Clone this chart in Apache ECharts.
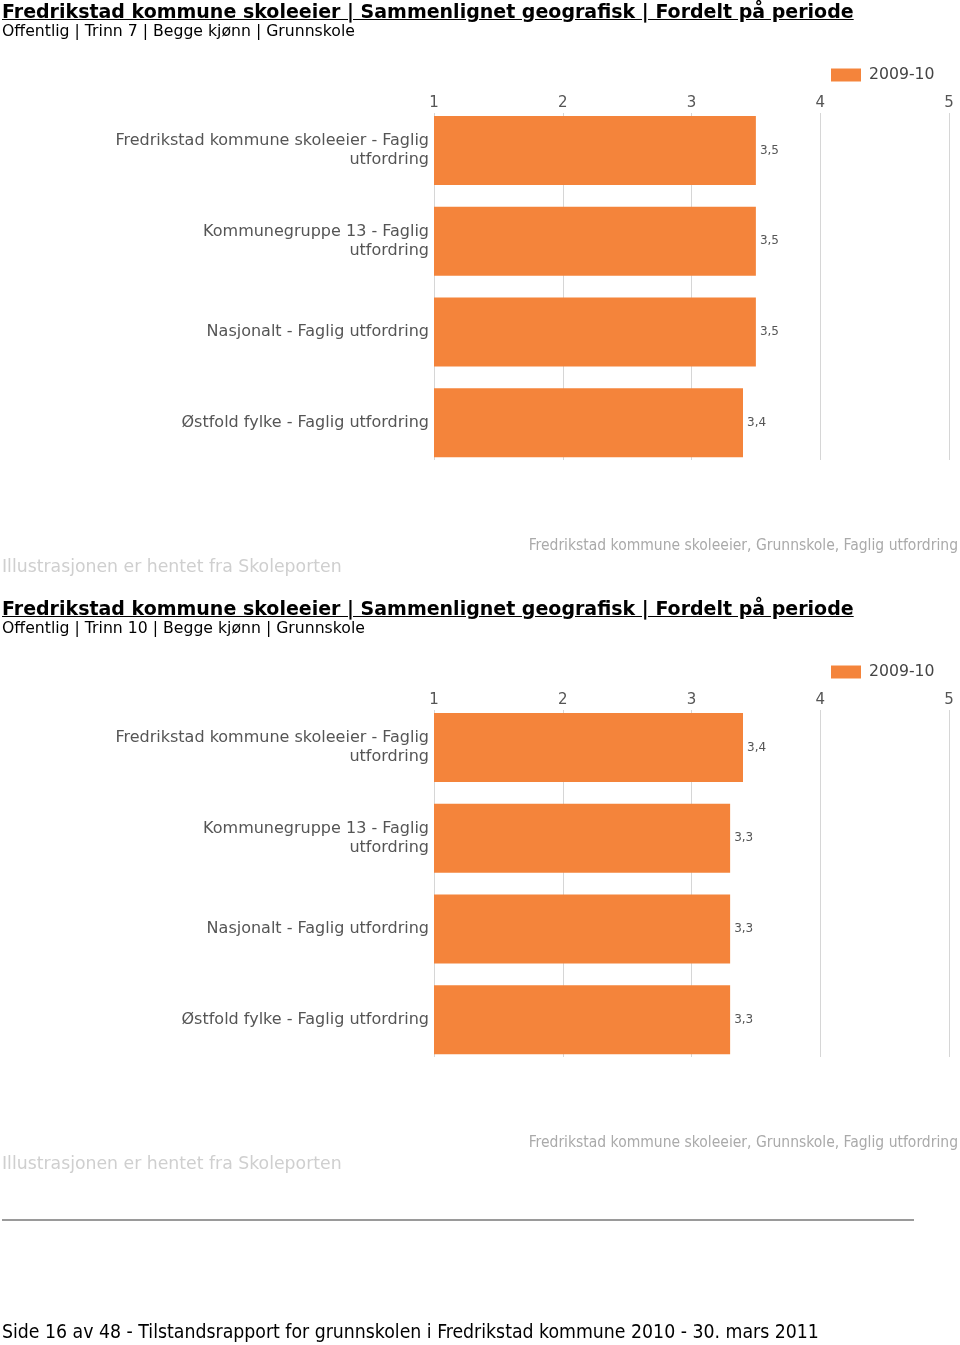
<!DOCTYPE html>
<html>
<head>
<meta charset="utf-8">
<script src="https://cdn.jsdelivr.net/npm/echarts@6/dist/echarts.min.js"></script>
<style>
  html, body { margin: 0; padding: 0; background: #fff; }
  #page { position: relative; width: 960px; height: 1345px; overflow: hidden; }
  #chart { position: absolute; left: 0; top: 0; width: 960px; height: 1345px; }
  .t { position: absolute; white-space: nowrap; pointer-events: none; }
  .title { font-family: "DejaVu Sans", Verdana, sans-serif; font-weight: bold; font-size: 19px; text-decoration: underline; color: #000; left: 2px; }
  .sub { font-family: "DejaVu Sans", Verdana, sans-serif; font-size: 15.7px; color: #000; left: 2px; }
  .src { font-family: "DejaVu Sans", Verdana, sans-serif; font-size: 17.3px; color: #cfcfcf; left: 2px; }
  .foot { font-family: "DejaVu Sans Condensed", "DejaVu Sans", sans-serif; font-size: 19.3px; color: #000; left: 2px; }
  .hr { position: absolute; left: 2px; width: 912px; height: 2px; background: #9a9a9a; }
</style>
</head>
<body>
<div id="page">
  <div id="chart"></div>
  <div class="t title" style="top:0px;">Fredrikstad kommune skoleeier | Sammenlignet geografisk | Fordelt på periode</div>
  <div class="t sub" style="top:21px;">Offentlig | Trinn 7 | Begge kjønn | Grunnskole</div>
  <div class="t src" style="top:556px;">Illustrasjonen er hentet fra Skoleporten</div>
  <div class="t title" style="top:597px;">Fredrikstad kommune skoleeier | Sammenlignet geografisk | Fordelt på periode</div>
  <div class="t sub" style="top:618px;">Offentlig | Trinn 10 | Begge kjønn | Grunnskole</div>
  <div class="t src" style="top:1153px;">Illustrasjonen er hentet fra Skoleporten</div>
  <div class="hr" style="top:1219px;"></div>
  <div class="t foot" style="top:1320px;">Side 16 av 48 - Tilstandsrapport for grunnskolen i Fredrikstad kommune 2010 - 30. mars 2011</div>
</div>
<script>
// ---- data ----
const categories = [
  'Fredrikstad kommune skoleeier - Faglig utfordring',
  'Kommunegruppe 13 - Faglig utfordring',
  'Nasjonalt - Faglig utfordring',
  'Østfold fylke - Faglig utfordring'
];
const periodName = '2009-10';
const trinn7Values = [3.5, 3.5, 3.5, 3.4];
const trinn10Values = [3.4, 3.3, 3.3, 3.3];
const axisMin = 1;
const axisMax = 5;
const axisInterval = 1;
const chartSubtitle = 'Fredrikstad kommune skoleeier, Grunnskole, Faglig utfordring';

// ---- chart ----
const FONT = '"DejaVu Sans", Verdana, sans-serif';
const BAR = '#F4843B';
const chart = echarts.init(document.getElementById('chart'), null, { renderer: 'canvas' });

function wrapLabel(v) {
  return v.length > 34 ? v.replace(' utfordring', '\nutfordring') : v;
}

function block(offset, values, gi) {
  const gMain = { left: 434, width: 515, top: 105 + offset, height: 363 };
  const gLines = { left: 434, width: 515, top: 113 + offset, height: 347 };
  const xMain = {
    gridIndex: gi, type: 'value', min: axisMin, max: axisMax, interval: axisInterval,
    position: 'top', show: false
  };
  const xLines = {
    gridIndex: gi + 1, type: 'value', min: axisMin, max: axisMax, interval: axisInterval,
    position: 'top',
    axisLine: { show: false }, axisTick: { show: false },
    axisLabel: { color: '#555', fontSize: 15, fontFamily: FONT, margin: 2 },
    splitLine: { show: true, lineStyle: { color: '#d6d6d6', width: 1 } }
  };
  const yMain = {
    gridIndex: gi, type: 'category', data: categories, inverse: true,
    axisLine: { show: false }, axisTick: { show: false }, splitLine: { show: false },
    axisLabel: {
      color: '#555', fontSize: 16, fontFamily: FONT, margin: 5, lineHeight: 19,
      align: 'right', formatter: wrapLabel
    }
  };
  const yLines = { gridIndex: gi + 1, type: 'category', data: categories, inverse: true, show: false };
  const series = {
    type: 'bar', name: periodName, xAxisIndex: gi, yAxisIndex: gi, data: values,
    barWidth: 69, clip: true,
    itemStyle: { color: BAR },
    label: {
      show: true, position: 'right', distance: 4, color: '#555', fontSize: 12, fontFamily: FONT,
      formatter: p => String(p.value).replace('.', ',')
    }
  };
  const legend = {
    data: [periodName], left: 831, top: 67 + offset, icon: 'rect', padding: 0,
    itemWidth: 30, itemHeight: 13, itemGap: 10,
    textStyle: { color: '#444', fontSize: 15.7, fontFamily: FONT, padding: [0, 0, 0, 3] }
  };
  const sub = {
    text: chartSubtitle, right: 2, top: 538 + offset, padding: 0,
    textStyle: { color: '#aaa', fontSize: 15.5, fontWeight: 'normal', fontFamily: '"DejaVu Sans Condensed", "DejaVu Sans", sans-serif' }
  };
  return { grids: [gMain, gLines], xs: [xMain, xLines], ys: [yMain, yLines], series, legend, sub };
}

const b1 = block(0, trinn7Values, 0);
const b2 = block(597, trinn10Values, 2);

chart.setOption({
  animation: false,
  backgroundColor: 'transparent',
  title: [b1.sub, b2.sub],
  legend: [b1.legend, b2.legend],
  grid: [...b1.grids, ...b2.grids],
  xAxis: [...b1.xs, ...b2.xs],
  yAxis: [...b1.ys, ...b2.ys],
  series: [b1.series, b2.series]
});
</script>
</body>
</html>
